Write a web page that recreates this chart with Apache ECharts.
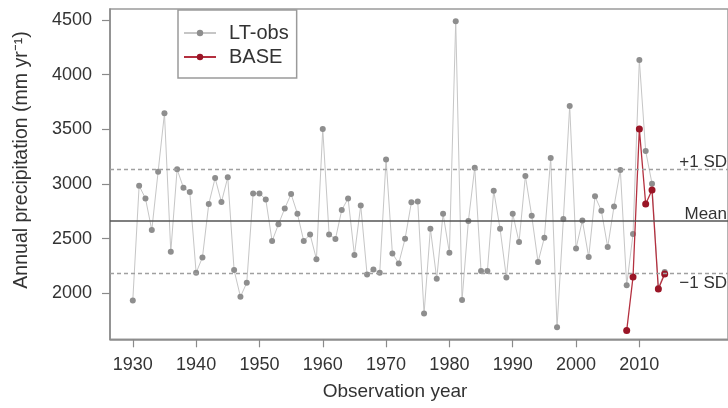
<!DOCTYPE html>
<html>
<head>
<meta charset="utf-8">
<script src="https://cdn.jsdelivr.net/npm/echarts@6/dist/echarts.min.js"></script>
<style>
  html, body { margin: 0; padding: 0; background: #ffffff; }
  #chart { width: 728px; height: 408px; }
</style>
</head>
<body>
<div id="chart"></div>
<script>
// Long-term observed annual precipitation (mm/yr), 1930-2014
const obsYears = [
  1930, 1931, 1932, 1933, 1934, 1935, 1936, 1937, 1938, 1939,
  1940, 1941, 1942, 1943, 1944, 1945, 1946, 1947, 1948, 1949,
  1950, 1951, 1952, 1953, 1954, 1955, 1956, 1957, 1958, 1959,
  1960, 1961, 1962, 1963, 1964, 1965, 1966, 1967, 1968, 1969,
  1970, 1971, 1972, 1973, 1974, 1975, 1976, 1977, 1978, 1979,
  1980, 1981, 1982, 1983, 1984, 1985, 1986, 1987, 1988, 1989,
  1990, 1991, 1992, 1993, 1994, 1995, 1996, 1997, 1998, 1999,
  2000, 2001, 2002, 2003, 2004, 2005, 2006, 2007, 2008, 2009,
  2010, 2011, 2012, 2013, 2014
];
const obsValues = [
  1935, 2984, 2868, 2579, 3112, 3646, 2380, 3134, 2966, 2926,
  2188, 2329, 2817, 3054, 2835, 3061, 2213, 1969, 2097, 2914,
  2914, 2859, 2478, 2631, 2777, 2908, 2728, 2478, 2539, 2313,
  3503, 2539, 2496, 2762, 2868, 2350, 2804, 2173, 2219, 2188,
  3225, 2365, 2274, 2499, 2832, 2841, 1816, 2591, 2133, 2728,
  2371, 4488, 1940, 2661, 3149, 2204, 2204, 2939, 2591, 2146,
  2728, 2469, 3073, 2710, 2286, 2509, 3237, 1690, 2679, 3713,
  2411, 2667, 2332, 2887, 2756, 2423, 2795, 3128, 2075, 2542,
  4134, 3301, 3003, 2050, 2195
];

// BASE run, 2008-2014
const baseYears = [2008, 2009, 2010, 2011, 2012, 2013, 2014];
const baseValues = [1660, 2150, 3502, 2817, 2945, 2040, 2178];

// Reference levels of the long-term record
const meanValue = 2661;
const plusSD = 3134;
const minusSD = 2182;

// Tick labels
const xTicks = [1930, 1940, 1950, 1960, 1970, 1980, 1990, 2000, 2010];
const yTicks = [2000, 2500, 3000, 3500, 4000, 4500];

const FONT = "'Liberation Sans', Arial, Helvetica, sans-serif";
const AXIS_COLOR = '#8a8a8a';
const TEXT_COLOR = '#333333';

const obsData = obsYears.map((y, i) => [y, obsValues[i]]);
const baseData = baseYears.map((y, i) => [y, baseValues[i]]);

const chart = echarts.init(document.getElementById('chart'), null, { renderer: 'canvas' });

const option = {
  animation: false,
  backgroundColor: '#ffffff',
  textStyle: { fontFamily: FONT },
  grid: {
    left: 110,
    top: 9,
    right: -17.4,
    bottom: 68.7,
    show: true,
    borderColor: '#9a9a9a',
    borderWidth: 1.5,
    containLabel: false
  },
  legend: {
    left: 178,
    top: 10,
    orient: 'vertical',
    data: ['LT-obs', 'BASE'],
    backgroundColor: '#ffffff',
    borderColor: '#9a9a9a',
    borderWidth: 1.5,
    borderRadius: 0,
    padding: [12, 8, 10, 5],
    itemGap: 2,
    itemWidth: 32,
    itemHeight: 8,
    selectedMode: false,
    textStyle: {
      fontFamily: FONT,
      fontSize: 20,
      color: TEXT_COLOR,
      lineHeight: 22,
      padding: [0, 0, 0, 8]
    }
  },
  xAxis: {
    type: 'value',
    min: 1926.4,
    max: 2024,
    axisLine: { show: true, onZero: false, lineStyle: { color: AXIS_COLOR, width: 1.5 } },
    axisTick: {
      show: true,
      length: 8,
      customValues: xTicks,
      lineStyle: { color: AXIS_COLOR, width: 1.2 }
    },
    axisLabel: {
      customValues: xTicks,
      margin: 17,
      fontSize: 18,
      color: TEXT_COLOR,
      fontFamily: FONT,
      formatter: v => String(v)
    },
    splitLine: { show: false }
  },
  yAxis: {
    type: 'value',
    min: 1580,
    max: 4600,
    axisLine: { show: true, onZero: false, lineStyle: { color: AXIS_COLOR, width: 1.5 } },
    axisTick: {
      show: true,
      length: 8,
      customValues: yTicks,
      lineStyle: { color: AXIS_COLOR, width: 1.2 }
    },
    axisLabel: {
      customValues: yTicks,
      margin: 18,
      fontSize: 18,
      color: TEXT_COLOR,
      fontFamily: FONT,
      formatter: v => String(v)
    },
    splitLine: { show: false }
  },
  series: [
    {
      name: 'LT-obs',
      type: 'line',
      data: obsData,
      symbol: 'circle',
      symbolSize: 6,
      showSymbol: true,
      itemStyle: { color: '#8e8e8e' },
      lineStyle: { color: '#c6c6c6', width: 1 },
      z: 2,
      markLine: {
        silent: true,
        symbol: 'none',
        label: { show: false },
        data: [
          { yAxis: meanValue, lineStyle: { color: '#555555', width: 1.5, type: 'solid' } },
          { yAxis: plusSD, lineStyle: { color: '#a0a0a0', width: 1.3, type: [4, 3] } },
          { yAxis: minusSD, lineStyle: { color: '#a0a0a0', width: 1.3, type: [4, 3] } }
        ]
      }
    },
    {
      name: 'BASE',
      type: 'line',
      data: baseData,
      symbol: 'circle',
      symbolSize: 7,
      itemStyle: { color: '#9a1526' },
      lineStyle: { color: '#b4303f', width: 1.3 },
      z: 3
    }
  ]
};

chart.setOption(option);

// Axis titles and reference-line labels, placed from the axis scales
const yMean = chart.convertToPixel({ yAxisIndex: 0 }, meanValue);
const yPlus = chart.convertToPixel({ yAxisIndex: 0 }, plusSD);
const yMinus = chart.convertToPixel({ yAxisIndex: 0 }, minusSD);

chart.setOption({
  graphic: [
    {
      type: 'text',
      x: 22, y: 160,
      rotation: Math.PI / 2,
      style: {
        text: 'Annual precipitation (mm yr\u207B\u00B9)',
        font: '19.5px ' + FONT,
        fill: TEXT_COLOR,
        align: 'center',
        verticalAlign: 'middle'
      }
    },
    {
      type: 'text',
      x: 395, y: 392,
      style: {
        text: 'Observation year',
        font: '19px ' + FONT,
        fill: TEXT_COLOR,
        align: 'center',
        verticalAlign: 'middle'
      }
    },
    {
      type: 'text',
      x: 727, y: yPlus + 1.5,
      style: { text: '+1 SD', font: '17px ' + FONT, fill: TEXT_COLOR, align: 'right', verticalAlign: 'bottom' }
    },
    {
      type: 'text',
      x: 727, y: yMean + 1.5,
      style: { text: 'Mean', font: '17px ' + FONT, fill: TEXT_COLOR, align: 'right', verticalAlign: 'bottom' }
    },
    {
      type: 'text',
      x: 727, y: yMinus + 1,
      style: { text: '\u22121 SD', font: '17px ' + FONT, fill: TEXT_COLOR, align: 'right', verticalAlign: 'top' }
    }
  ]
});
</script>
</body>
</html>
